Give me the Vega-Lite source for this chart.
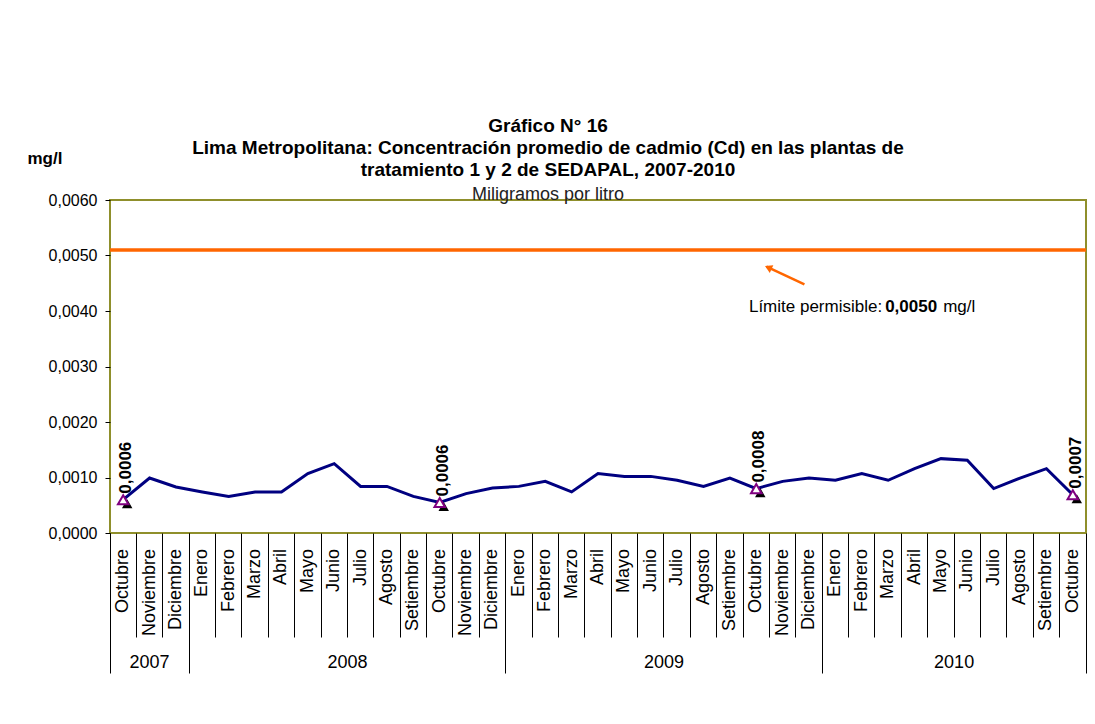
{
  "$schema": "https://vega.github.io/schema/vega-lite/v6.json",
  "width": 976,
  "height": 333,
  "autosize": {"type": "none"},
  "padding": {"left": 110, "top": 200, "right": 9, "bottom": 191},
  "background": "white",
  "title": {
    "text": ["Gráfico N° 16", "Lima Metropolitana: Concentración promedio de cadmio (Cd) en las plantas de", "tratamiento 1 y 2 de SEDAPAL, 2007-2010"],
    "subtitle": "Miligramos por litro",
    "font": "Liberation Sans",
    "fontSize": 19,
    "fontWeight": "bold",
    "color": "black",
    "lineHeight": 22,
    "subtitleFont": "Liberation Sans",
    "subtitleFontSize": 18,
    "subtitleColor": "#222222",
    "subtitlePadding": 6,
    "anchor": "middle",
    "dx": -50,
    "offset": -55
  },
  "config": {
    "locale": {"number": {"decimal": ",", "thousands": ".", "grouping": [3], "currency": ["", ""]}},
    "view": {"stroke": "#8f8f2b", "strokeWidth": 2},
    "font": "Liberation Sans"
  },
  "data": {
    "values": [
      {"periodo": "Octubre 2007", "valor": 0.00060},
      {"periodo": "Noviembre 2007", "valor": 0.00099},
      {"periodo": "Diciembre 2007", "valor": 0.00083},
      {"periodo": "Enero 2008", "valor": 0.00074},
      {"periodo": "Febrero 2008", "valor": 0.00066},
      {"periodo": "Marzo 2008", "valor": 0.00074},
      {"periodo": "Abril 2008", "valor": 0.00074},
      {"periodo": "Mayo 2008", "valor": 0.00107},
      {"periodo": "Junio 2008", "valor": 0.00125},
      {"periodo": "Julio 2008", "valor": 0.00084},
      {"periodo": "Agosto 2008", "valor": 0.00084},
      {"periodo": "Setiembre 2008", "valor": 0.00066},
      {"periodo": "Octubre 2008", "valor": 0.00055},
      {"periodo": "Noviembre 2008", "valor": 0.00071},
      {"periodo": "Diciembre 2008", "valor": 0.00081},
      {"periodo": "Enero 2009", "valor": 0.00084},
      {"periodo": "Febrero 2009", "valor": 0.00093},
      {"periodo": "Marzo 2009", "valor": 0.00074},
      {"periodo": "Abril 2009", "valor": 0.00107},
      {"periodo": "Mayo 2009", "valor": 0.00102},
      {"periodo": "Junio 2009", "valor": 0.00102},
      {"periodo": "Julio 2009", "valor": 0.00095},
      {"periodo": "Agosto 2009", "valor": 0.00084},
      {"periodo": "Setiembre 2009", "valor": 0.00099},
      {"periodo": "Octubre 2009", "valor": 0.00080},
      {"periodo": "Noviembre 2009", "valor": 0.00093},
      {"periodo": "Diciembre 2009", "valor": 0.00099},
      {"periodo": "Enero 2010", "valor": 0.00095},
      {"periodo": "Febrero 2010", "valor": 0.00107},
      {"periodo": "Marzo 2010", "valor": 0.00095},
      {"periodo": "Abril 2010", "valor": 0.00116},
      {"periodo": "Mayo 2010", "valor": 0.00134},
      {"periodo": "Junio 2010", "valor": 0.00131},
      {"periodo": "Julio 2010", "valor": 0.00080},
      {"periodo": "Agosto 2010", "valor": 0.00099},
      {"periodo": "Setiembre 2010", "valor": 0.00116},
      {"periodo": "Octubre 2010", "valor": 0.00069}
    ]
  },
  "resolve": {"axis": {"x": "independent"}},
  "layer": [
    {
      "data": {"values": [{"limite": 0.0051}]},
      "mark": {"type": "rule", "color": "#ff6600", "strokeWidth": 3.5},
      "encoding": {"y": {"field": "limite", "type": "quantitative"}}
    },
    {
      "mark": {"type": "line", "color": "#000080", "strokeWidth": 3},
      "encoding": {
        "x": {
          "field": "periodo", "type": "nominal", "sort": null,
          "scale": {"paddingInner": 0, "paddingOuter": 0, "domain": ["Octubre 2007","Noviembre 2007","Diciembre 2007","Enero 2008","Febrero 2008","Marzo 2008","Abril 2008","Mayo 2008","Junio 2008","Julio 2008","Agosto 2008","Setiembre 2008","Octubre 2008","Noviembre 2008","Diciembre 2008","Enero 2009","Febrero 2009","Marzo 2009","Abril 2009","Mayo 2009","Junio 2009","Julio 2009","Agosto 2009","Setiembre 2009","Octubre 2009","Noviembre 2009","Diciembre 2009","Enero 2010","Febrero 2010","Marzo 2010","Abril 2010","Mayo 2010","Junio 2010","Julio 2010","Agosto 2010","Setiembre 2010","Octubre 2010"]},
          "axis": {
            "orient": "bottom",
            "title": null, "bandPosition": 0, "tickSize": 104, "tickColor": "black", "tickWidth": 1,
            "domain": false, "grid": false,
            "labelAngle": -90, "labelAlign": "right", "labelBaseline": "middle",
            "labelPadding": -88.5, "labelFontSize": 18, "labelFont": "Liberation Sans",
            "labelColor": "black", "labelExpr": "split(datum.label, ' ')[0]",
            "labelOverlap": false, "labelBound": false, "labelFlush": false
          }
        },
        "y": {
          "field": "valor", "type": "quantitative",
          "scale": {"domain": [0, 0.006], "nice": false, "zero": true},
          "axis": {
            "title": "mg/l", "titleAngle": 0, "titleAlign": "left", "titleBaseline": "middle",
            "titleX": -83, "titleY": -42, "titleFontSize": 17, "titleFontWeight": "bold", "titleFont": "Liberation Sans", "titleColor": "black",
            "values": [0, 0.001, 0.002, 0.003, 0.004, 0.005, 0.006], "format": ".4f",
            "tickSize": 5, "tickColor": "black", "domain": false, "grid": false,
            "labelFontSize": 16, "labelPadding": 8, "labelColor": "black", "labelFont": "Liberation Sans"
          }
        }
      }
    },
    {
      "transform": [{"filter": "indexof(datum.periodo, 'Octubre') == 0"}],
      "mark": {"type": "point", "shape": "triangle-up", "filled": true, "color": "black", "size": 110, "opacity": 1, "xOffset": 4, "yOffset": 4},
      "encoding": {
        "x": {
          "field": "periodo", "type": "nominal", "sort": null,
          "axis": {
            "orient": "bottom",
            "title": null, "bandPosition": 0, "grid": false, "domain": false,
            "values": ["Octubre 2007","Noviembre 2007","Enero 2008","Junio 2008","Enero 2009","Junio 2009","Enero 2010","Mayo 2010"],
            "tickSize": 140, "tickColor": "black", "tickWidth": 1,
            "tickOpacity": {"condition": {"test": "indexof(['Octubre 2007','Enero 2008','Enero 2009','Enero 2010'], datum.value) >= 0", "value": 1}, "value": 0},
            "labelExpr": "datum.value == 'Noviembre 2007' ? '2007' : datum.value == 'Junio 2008' ? '2008' : datum.value == 'Junio 2009' ? '2009' : datum.value == 'Mayo 2010' ? '2010' : ''",
            "labelOffset": {"condition": {"test": "datum.value == 'Noviembre 2007'", "value": 0}, "value": 13.19},
            "labelAngle": 0, "labelAlign": "center", "labelBaseline": "middle", "labelPadding": -10.5,
            "labelFontSize": 18, "labelFont": "Liberation Sans", "labelColor": "black",
            "labelOverlap": false, "labelBound": false, "labelFlush": false
          }
        },
        "y": {"field": "valor", "type": "quantitative"}
      }
    },
    {
      "transform": [{"filter": "indexof(datum.periodo, 'Octubre') == 0"}],
      "mark": {"type": "point", "shape": "triangle-up", "filled": true, "fill": "white", "stroke": "#800080", "strokeWidth": 2, "size": 110, "opacity": 1},
      "encoding": {
        "x": {
          "field": "periodo", "type": "nominal", "sort": null,
          "axis": {
            "orient": "bottom",
            "title": null, "bandPosition": 1, "grid": false, "domain": false, "labels": false,
            "values": ["Octubre 2010"], "tickSize": 140, "tickColor": "black", "tickWidth": 1
          }
        },
        "y": {"field": "valor", "type": "quantitative"}
      }
    },
    {
      "transform": [{"filter": "indexof(datum.periodo, 'Octubre') == 0"}],
      "mark": {"type": "text", "angle": 270, "align": "left", "baseline": "middle", "dx": 6, "dy": 3, "fontSize": 17, "fontWeight": "bold", "font": "Liberation Sans", "color": "black"},
      "encoding": {
        "x": {"field": "periodo", "type": "nominal", "sort": null, "axis": null},
        "y": {"field": "valor", "type": "quantitative"},
        "text": {"field": "valor", "type": "quantitative", "format": ".4f"}
      }
    },
    {
      "data": {"values": [{"desde": "Diciembre 2009", "hasta": "Octubre 2009", "y1": 0.00448, "y2": 0.0048}]},
      "mark": {"type": "rule", "color": "#ff6600", "strokeWidth": 2.5, "xOffset": -4.6, "x2Offset": 10.2},
      "encoding": {
        "x": {"field": "desde", "type": "nominal", "axis": null},
        "x2": {"field": "hasta"},
        "y": {"field": "y1", "type": "quantitative"},
        "y2": {"field": "y2"}
      }
    },
    {
      "data": {"values": [{"hasta": "Octubre 2009", "y2": 0.0048}]},
      "mark": {"type": "point", "shape": "triangle-up", "filled": true, "color": "#ff6600", "opacity": 1, "size": 70, "angle": 295, "xOffset": 12, "yOffset": 1},
      "encoding": {
        "x": {"field": "hasta", "type": "nominal", "axis": null},
        "y": {"field": "y2", "type": "quantitative"}
      }
    },
    {
      "data": {"values": [{"ancla": "Marzo 2010", "nivel": 0.00407}]},
      "layer": [
        {
          "mark": {"type": "text", "text": "Límite permisible:", "align": "right", "baseline": "middle", "dx": -6, "fontSize": 17, "font": "Liberation Sans", "color": "black"},
          "encoding": {
            "x": {"field": "ancla", "type": "nominal", "axis": null},
            "y": {"field": "nivel", "type": "quantitative"}
          }
        },
        {
          "mark": {"type": "text", "text": "0,0050", "align": "left", "baseline": "middle", "dx": -3, "fontSize": 17, "fontWeight": "bold", "font": "Liberation Sans", "color": "black"},
          "encoding": {
            "x": {"field": "ancla", "type": "nominal", "axis": null},
            "y": {"field": "nivel", "type": "quantitative"}
          }
        },
        {
          "mark": {"type": "text", "text": "mg/l", "align": "left", "baseline": "middle", "dx": 55, "fontSize": 17, "font": "Liberation Sans", "color": "black"},
          "encoding": {
            "x": {"field": "ancla", "type": "nominal", "axis": null},
            "y": {"field": "nivel", "type": "quantitative"}
          }
        }
      ]
    }
  ]
}
